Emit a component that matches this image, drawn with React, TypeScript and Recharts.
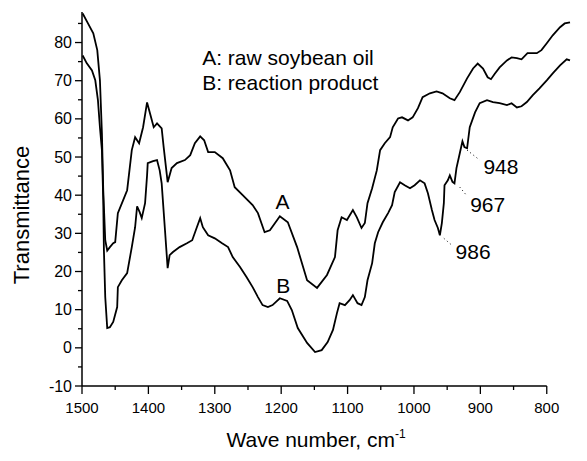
import React from 'react';
import {
  LineChart,
  Line,
  XAxis,
  YAxis,
  ReferenceLine,
  ReferenceDot,
} from 'recharts';

// spectrum A: raw soybean oil
const waveA = [
  1499, 1491, 1483, 1477, 1473, 1470, 1468, 1465, 1462, 1458, 1453, 1450, 1446, 1438, 1432, 1428,
  1425, 1420, 1414, 1408, 1402, 1396, 1392, 1387, 1380, 1377, 1371, 1365, 1357, 1345, 1337, 1330,
  1322, 1316, 1310, 1300, 1288, 1277, 1270, 1258, 1243, 1235, 1225, 1217, 1202, 1190, 1176, 1161,
  1146, 1131, 1119, 1115, 1109, 1101, 1092, 1086, 1079, 1074, 1070, 1063, 1056, 1051, 1044, 1036,
  1032, 1024, 1018, 1009, 1002, 994, 987, 976, 966, 957, 946, 939, 931, 920, 911, 904, 896, 889,
  884, 878, 871, 860, 853, 845, 838, 829, 815, 808, 800, 791, 780, 773, 765,
];
const transA = [
  87.6, 85.0, 82.4, 78.0, 70.1, 56.2, 41.3, 28.2, 25.5, 26.4, 27.4, 27.7, 35.3, 38.7, 41.3, 47.3,
  51.8, 55.2, 53.6, 57.8, 64.3, 60.4, 57.8, 58.8, 57.5, 52.6, 43.4, 47.1, 48.4, 49.2, 50.5, 53.6,
  55.4, 54.4, 51.3, 51.3, 49.7, 46.5, 42.1, 40.0, 37.4, 35.3, 30.3, 30.8, 34.5, 32.9, 26.4, 17.7,
  15.7, 19.1, 23.8, 30.8, 34.2, 33.5, 36.1, 34.2, 31.4, 32.7, 37.9, 41.8, 46.5, 51.8, 53.6, 55.2,
  57.8, 60.1, 60.4, 59.6, 60.4, 62.8, 65.7, 66.7, 67.2, 66.7, 65.4, 64.9, 67.0, 70.6, 73.2, 74.5,
  73.2, 70.9, 70.4, 71.9, 73.5, 75.3, 76.1, 75.9, 75.6, 77.2, 77.2, 78.0, 79.8, 81.9, 84.0, 85.0,
  85.3,
];

// spectrum B: reaction product
const waveB = [
  1499, 1493, 1485, 1480, 1476, 1473, 1470, 1468, 1467, 1465, 1462, 1458, 1453, 1447, 1446, 1440,
  1432, 1425, 1420, 1417, 1413, 1410, 1405, 1402, 1401, 1393, 1387, 1383, 1380, 1375, 1371, 1368,
  1363, 1353, 1342, 1334, 1327, 1322, 1318, 1310, 1300, 1289, 1280, 1273, 1262, 1252, 1243, 1235,
  1228, 1220, 1213, 1202, 1191, 1184, 1175, 1161, 1149, 1139, 1130, 1122, 1116, 1112, 1104, 1097,
  1092, 1085, 1079, 1074, 1070, 1063, 1059, 1054, 1047, 1039, 1033, 1029, 1021, 1014, 1006, 999,
  991, 984, 979, 973, 969, 964, 961, 958, 955, 954, 949, 946, 942, 939, 936, 931, 927, 924, 920,
  916, 908, 901, 890, 881, 871, 860, 853, 845, 838, 830, 821, 811, 800, 791, 780, 770, 765,
];
const transB = [
  76.6, 74.6, 72.7, 70.1, 64.9, 57.8, 51.8, 38.7, 25.6, 13.3, 5.2, 5.4, 6.8, 10.7, 15.9, 17.7,
  19.6, 26.4, 31.6, 37.1, 35.5, 34.0, 37.9, 45.2, 48.4, 48.9, 49.2, 46.5, 43.1, 30.8, 20.9, 24.3,
  25.1, 26.4, 27.4, 28.2, 31.6, 34.0, 31.6, 29.5, 28.7, 27.4, 26.4, 23.8, 21.2, 18.5, 15.9, 13.3,
  11.2, 10.7, 11.2, 13.0, 12.3, 9.9, 5.2, 1.3, -1.1, -0.6, 1.5, 4.7, 9.1, 11.7, 11.2, 12.5, 13.8,
  11.7, 11.2, 13.3, 17.7, 22.2, 27.4, 30.3, 32.9, 35.3, 37.4, 40.8, 43.4, 42.6, 41.8, 42.6, 43.9,
  43.1, 40.5, 36.1, 33.5, 31.4, 29.5, 32.7, 37.9, 42.6, 43.9, 45.2, 43.5, 43.1, 47.1, 51.0, 54.1,
  52.6, 52.3, 57.8, 61.7, 64.1, 64.9, 64.4, 64.1, 63.6, 64.1, 63.0, 63.3, 64.4, 66.2, 68.0, 70.1,
  71.9, 74.0, 75.6, 75.3,
];

// axis ticks (major ones get a label)
const xTicks = [1500, 1450, 1400, 1350, 1300, 1250, 1200, 1150, 1100, 1050, 1000, 950, 900, 850, 800];
const yTicks = [-10, -5, 0, 5, 10, 15, 20, 25, 30, 35, 40, 45, 50, 55, 60, 65, 70, 75, 80, 85];

// legend lines and curve names
const legendLines = ['A: raw soybean oil', 'B: reaction product'];
const legendWave = [1319, 1319];
const legendValue = [76.0, 69.4];
const curveNames = ['A', 'B'];
const curveNameWave = [1198, 1197];
const curveNameValue = [38.4, 16.4];

// peak annotations with dotted leaders
const peakLabels = ['948', '967', '986'];
const peakLabelWave = [869, 889, 911];
const peakLabelValue = [47.6, 37.6, 25.3];
const leaderWave1 = [920, 931, 955];
const leaderValue1 = [51.8, 42.1, 28.7];
const leaderWave2 = [901, 922, 943];
const leaderValue2 = [49.2, 40.2, 26.9];

const dataA = waveA.map((w, i) => ({ w, v: transA[i] }));
const dataB = waveB.map((w, i) => ({ w, v: transB[i] }));

const XTick = (props: any) => {
  const { x, y, payload } = props;
  const major = payload.value % 100 === 0;
  return (
    <g>
      <line x1={x} x2={x} y1={y} y2={y + (major ? 8 : 4)} stroke="#000" strokeWidth={1.3} />
      {major && (
        <text x={x} y={y + 27} textAnchor="middle" fontSize={15} fill="#000">
          {payload.value}
        </text>
      )}
    </g>
  );
};

const YTick = (props: any) => {
  const { x, y, payload } = props;
  const major = payload.value % 10 === 0;
  return (
    <g>
      <line x1={x} x2={x - (major ? 7 : 4)} y1={y} y2={y} stroke="#000" strokeWidth={1.3} />
      {major && (
        <text x={x - 10} y={y} dy="0.35em" textAnchor="end" fontSize={16} fill="#000">
          {payload.value}
        </text>
      )}
    </g>
  );
};

const XTitle = (props: any) => {
  const { viewBox } = props;
  return (
    <text x={viewBox.x + 234} y={viewBox.y + 61} textAnchor="middle" fontSize={21} fill="#000">
      Wave number, cm
      <tspan dy={-9} fontSize={12}>-1</tspan>
    </text>
  );
};

const YTitle = (props: any) => {
  const { viewBox } = props;
  const cx = viewBox.x - 1;
  const cy = viewBox.y + viewBox.height / 2 + 16;
  return (
    <text
      x={cx}
      y={cy}
      transform={`rotate(-90 ${cx} ${cy})`}
      textAnchor="middle"
      dy="0.35em"
      fontSize={22}
      fill="#000"
    >
      Transmittance
    </text>
  );
};

export default function App() {
  return (
    <div style={{ width: 579, height: 453, fontFamily: 'Arial, "Liberation Sans", sans-serif' }}>
      <LineChart width={579} height={453} margin={{ top: 4, right: 17, left: 14, bottom: 5 }}>
        <XAxis
          type="number"
          dataKey="w"
          domain={[765, 1500]}
          reversed
          ticks={xTicks}
          interval={0}
          axisLine={false}
          tickLine={false}
          tickSize={0}
          tickMargin={0}
          tick={<XTick />}
          height={70}
          label={(p: any) => <XTitle {...p} />}
        />
        <YAxis
          type="number"
          domain={[-10, 88]}
          ticks={yTicks}
          interval={0}
          width={60}
          axisLine={{ stroke: '#000', strokeWidth: 1.5 }}
          tickLine={false}
          tickSize={0}
          tickMargin={0}
          tick={<YTick />}
          label={(p: any) => <YTitle {...p} />}
        />
        <ReferenceLine
          segment={[
            { x: 1500, y: -10 },
            { x: 800, y: -10 },
          ]}
          stroke="#000"
          strokeWidth={1.5}
        />
        <Line
          data={dataA}
          dataKey="v"
          type="linear"
          stroke="#000"
          strokeWidth={1.8}
          dot={false}
          activeDot={false}
          isAnimationActive={false}
        />
        <Line
          data={dataB}
          dataKey="v"
          type="linear"
          stroke="#000"
          strokeWidth={1.8}
          dot={false}
          activeDot={false}
          isAnimationActive={false}
        />
        {peakLabels.map((_, i) => (
          <ReferenceLine
            key={'lead' + i}
            segment={[
              { x: leaderWave1[i], y: leaderValue1[i] },
              { x: leaderWave2[i], y: leaderValue2[i] },
            ]}
            stroke="#000"
            strokeWidth={1}
            strokeDasharray="1 3"
          />
        ))}
        {peakLabels.map((t, i) => (
          <ReferenceDot
            key={'peak' + i}
            x={peakLabelWave[i]}
            y={peakLabelValue[i]}
            r={0}
            fill="none"
            stroke="none"
            label={{ value: t, position: 'center', fontSize: 21, fill: '#000' }}
          />
        ))}
        {curveNames.map((t, i) => (
          <ReferenceDot
            key={'name' + i}
            x={curveNameWave[i]}
            y={curveNameValue[i]}
            r={0}
            fill="none"
            stroke="none"
            label={{ value: t, position: 'center', fontSize: 21, fill: '#000' }}
          />
        ))}
        {legendLines.map((t, i) => (
          <ReferenceDot
            key={'leg' + i}
            x={legendWave[i]}
            y={legendValue[i]}
            r={0}
            fill="none"
            stroke="none"
            label={{ value: t, position: 'right', offset: 0, fontSize: 21, fill: '#000' }}
          />
        ))}
      </LineChart>
    </div>
  );
}
